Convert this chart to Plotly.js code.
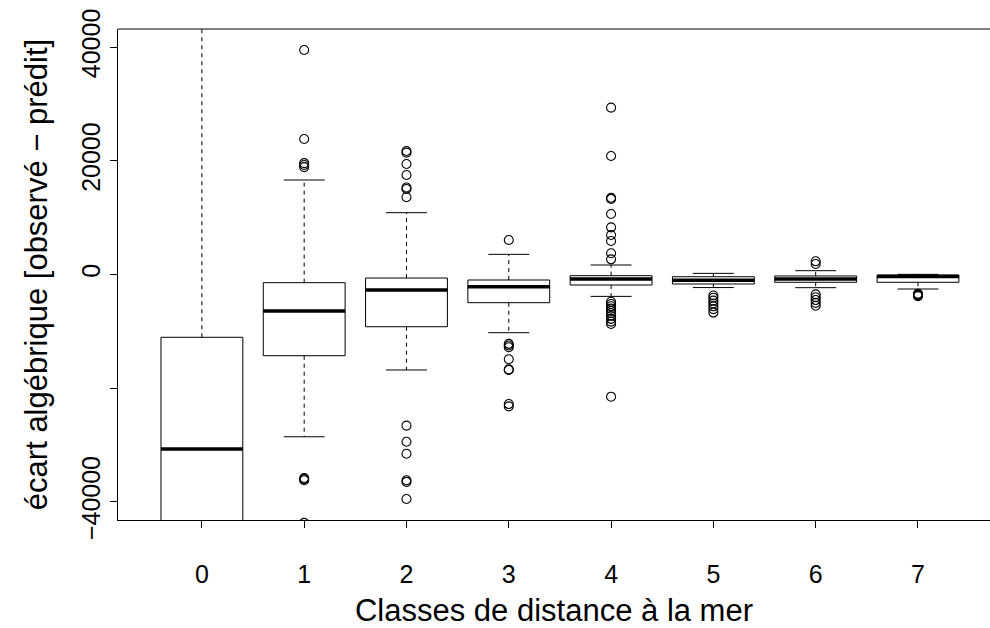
<!DOCTYPE html>
<html>
<head>
<meta charset="utf-8">
<script src="https://cdn.plot.ly/plotly-3.0.1.min.js"></script>
<style>html,body{margin:0;padding:0;background:#fff;}#chart{width:990px;height:628px;}</style>
</head>
<body>
<div id="chart"></div>
<script>
// Distance-to-sea classes
var classes = [0, 1, 2, 3, 4, 5, 6, 7];
var classLabels = ['0', '1', '2', '3', '4', '5', '6', '7'];

// Box statistics (observed - predicted)
var lowerWhisker = [-80000, -28550, -16800, -10240, -3850, -2300, -2320, -2550];
var q1Values     = [-55000, -14290, -9190, -4960, -1850, -1670, -1370, -1370];
var medianValues = [-30700, -6420, -2730, -2150, -790, -1000, -800, -350];
var q3Values     = [-11050, -1440, -620, -970, -210, -390, -260, -90];
var upperWhisker = [48000, 16630, 10880, 3550, 1670, 200, 670, 30];

// Outliers per class
var outliers0 = [];
var outliers1 = [39500, 23850, 19600, 19270, 18900, -35800, -36000, -36200, -43700];
var outliers2 = [21740, 21440, 19450, 17510, 15300, 15050, 13590, -26600, -29430, -31540, -36200, -36500, -39510];
var outliers3 = [6070, -12200, -12500, -12800, -14920, -16700, -16800, -22800, -23200];
var outliers4 = [29360, 20860, 13500, 13300, 10650, 8300, 6950, 5900, 3730, 2670, -4800, -5200, -5600, -6000, -6400, -6800, -7300, -7800, -8300, -8700, -21500];
var outliers5 = [-3700, -4100, -4600, -5100, -5600, -6100, -6700];
var outliers6 = [2320, 1850, -3500, -4000, -4500, -5000, -5500];
var outliers7 = [-3400, -3500, -3600, -3700, -3800];

var yTickVals = [-40000, -20000, 0, 20000, 40000];
var yTickText = ['\u221240000', '', '0', '20000', '40000'];

var allOutliers = [outliers0, outliers1, outliers2, outliers3, outliers4, outliers5, outliers6, outliers7];

var halfBox = 0.4, halfCap = 0.2;
var whiskX = [], whiskY = [], capX = [], capY = [], medX = [], medY = [];
var outX = [], outY = [];
classes.forEach(function (c, i) {
  whiskX.push(c, c, null, c, c, null);
  whiskY.push(q3Values[i], upperWhisker[i], null, q1Values[i], lowerWhisker[i], null);
  capX.push(c - halfCap, c + halfCap, null, c - halfCap, c + halfCap, null);
  capY.push(upperWhisker[i], upperWhisker[i], null, lowerWhisker[i], lowerWhisker[i], null);
  medX.push(c - halfBox, c + halfBox, null);
  medY.push(medianValues[i], medianValues[i], null);
  allOutliers[i].forEach(function (v) { outX.push(c); outY.push(v); });
});

var traces = [
  {
    type: 'scatter', mode: 'lines', x: whiskX, y: whiskY,
    line: {color: '#000', width: 1, dash: '4px,4px'}, hoverinfo: 'skip', showlegend: false
  },
  {
    type: 'box', x: classes, q1: q1Values, median: medianValues, q3: q3Values,
    lowerfence: q1Values, upperfence: q3Values, width: 0.8, whiskerwidth: 0,
    fillcolor: '#ffffff', line: {color: '#000', width: 1}, boxpoints: false, showlegend: false
  },
  {
    type: 'scatter', mode: 'lines', x: capX, y: capY,
    line: {color: '#000', width: 1}, hoverinfo: 'skip', showlegend: false
  },
  {
    type: 'scatter', mode: 'lines', x: medX, y: medY,
    line: {color: '#000', width: 3.5}, hoverinfo: 'skip', showlegend: false
  },
  {
    type: 'scatter', mode: 'markers', x: outX, y: outY,
    marker: {symbol: 'circle-open', size: 9, color: '#000', line: {width: 1.1}},
    showlegend: false
  }
];

var layout = {
  width: 990, height: 628,
  margin: {l: 118, r: 0, t: 29, b: 108},
  paper_bgcolor: '#fff', plot_bgcolor: '#fff',
  font: {family: 'Liberation Sans, Arial, sans-serif', color: '#000', size: 25},
  showlegend: false,
  xaxis: {
    range: [-0.82, 7.704], tickvals: classes, ticktext: classLabels,
    ticks: 'outside', ticklen: 7, tickwidth: 1, tickcolor: '#000',
    showline: true, linecolor: '#000', linewidth: 1, showgrid: false, zeroline: false,
    tickfont: {size: 25}, ticklabelstandoff: 25,
    title: {text: 'Classes de distance à la mer', font: {size: 31}, standoff: 19}
  },
  yaxis: {
    range: [-43200, 43200], tickvals: yTickVals, ticktext: yTickText, tickangle: -90,
    ticks: 'outside', ticklen: 7, tickwidth: 1, tickcolor: '#000',
    showline: true, linecolor: '#000', linewidth: 1, showgrid: false, zeroline: false,
    tickfont: {size: 25}, ticklabelstandoff: 0,
    title: {text: 'écart algébrique [observé \u2212 prédit]', font: {size: 31}, standoff: 20}
  },
  shapes: [
    {type: 'line', xref: 'paper', yref: 'paper', x0: 0, x1: 1, y0: 1, y1: 1, line: {color: '#000', width: 1}}
  ]
};

Plotly.newPlot('chart', traces, layout, {displayModeBar: false, staticPlot: true});
</script>
</body>
</html>
